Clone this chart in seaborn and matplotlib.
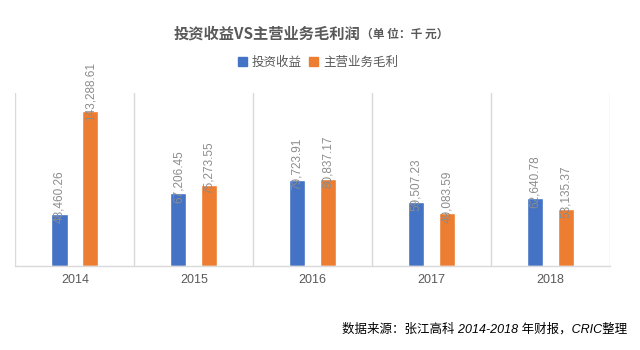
import matplotlib
matplotlib.use("Agg")
import matplotlib.pyplot as plt
import seaborn as sns
import pandas as pd

years = ["2014", "2015", "2016", "2017", "2018"]
series_names = ["投资收益", "主营业务毛利"]
investment_income = [48460.26, 67206.45, 79723.91, 59507.23, 62640.78]
gross_profit = [143288.61, 75273.55, 80837.17, 49083.59, 53135.37]
colors = ["#4472C4", "#ED7D31"]

sns.set_theme(style="white")
plt.rcParams["font.family"] = ["Noto Sans CJK SC", "DejaVu Sans"]

df = pd.DataFrame({
    "year": years * 2,
    "series": [series_names[0]] * len(years) + [series_names[1]] * len(years),
    "value": investment_income + gross_profit,
})

fig = plt.figure(figsize=(6.4, 3.5), dpi=100)
ax = fig.add_axes([0.0242, 0.24, 0.929, 0.494])

sns.barplot(data=df, x="year", y="value", hue="series", order=years,
            hue_order=series_names, palette=colors, width=0.52, gap=0.48,
            saturation=1, errorbar=None, legend=False, ax=ax)

ax.set_xlim(-0.5, len(years) - 0.5)
ax.set_ylim(0, 160000)
ax.set_yticks([])
ax.set_xlabel("")
ax.set_ylabel("")
for s in ["top", "left", "right"]:
    ax.spines[s].set_visible(False)
ax.spines["bottom"].set_color("#d9d9d9")
ax.spines["bottom"].set_linewidth(1.0)

# category separators
for xb in [i - 0.5 for i in range(len(years) + 1)]:
    ax.axvline(xb, color="#d9d9d9", lw=1.0, zorder=0)

ax.tick_params(axis="x", length=0, pad=6, labelsize=9, labelcolor="#595959")
for t in ax.get_xticklabels():
    t.set_family(["Liberation Sans", "DejaVu Sans"])

for cont in ax.containers:
    labels = [f"{v:,.2f}" for v in cont.datavalues]
    ax.bar_label(cont, labels=labels, rotation=90, padding=-7,
                 color="#8c8c8c", fontsize=8.5,
                 family=["Liberation Sans Narrow", "Liberation Sans", "DejaVu Sans"])

# title
fig.text(0.5625, 0.905, "投资收益VS主营业务毛利润", ha="right", va="center",
         fontsize=11, fontweight="bold", color="#595959")
fig.text(0.564, 0.902, "（单 位：千 元）", ha="left", va="center",
         fontsize=8.5, fontweight="bold", color="#595959")

# legend
handles = [plt.Rectangle((0, 0), 1, 1, color=c) for c in colors]
fig.legend(handles, series_names, loc="center", bbox_to_anchor=(0.497, 0.822),
           ncol=2, frameon=False, fontsize=9, handlelength=0.7, handleheight=0.7,
           handletextpad=0.4, columnspacing=0.6, labelcolor="#595959")

fig.text(0.98, 0.06, "数据来源：张江高科 2014-2018 年财报，CRIC整理", ha="right",
         va="center", fontsize=9, style="italic", color="#000000",
         family=["Liberation Sans", "Noto Sans CJK SC"])

fig.savefig("out.png", dpi=100, facecolor="white")
